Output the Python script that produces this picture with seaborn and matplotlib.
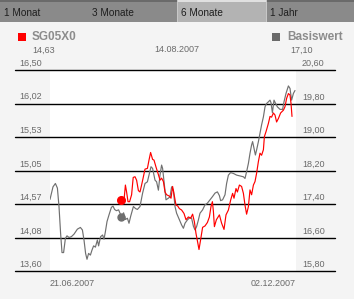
import matplotlib
matplotlib.use("Agg")
import matplotlib.pyplot as plt
import matplotlib.transforms as mtransforms
from matplotlib.patches import Rectangle
import seaborn as sns
import pandas as pd

sns.set_theme(style="white")
plt.rcParams['font.family'] = ['Liberation Sans Narrow', 'Liberation Sans', 'DejaVu Sans']

# ---------------- data ----------------
tabs = ["1 Monat", "3 Monate", "6 Monate", "1 Jahr"]
selected_tab = "6 Monate"

name_left = "SG05X0"
name_right = "Basiswert"
marker_date = "14.08.2007"
marker_left_value = "14,63"
marker_right_value = "17,10"
date_start = "21.06.2007"
date_end = "02.12.2007"

left_ticks = [13.60, 14.08, 14.57, 15.05, 15.53, 16.02, 16.50]
right_ticks = [15.80, 16.60, 17.40, 18.20, 19.00, 19.80, 20.60]

# trading-time index (0 = 21.06.2007, 123 = 02.12.2007)
basis_t = [0.0, 1.5, 2.7, 3.7, 4.5, 5.3, 6.0, 6.8, 7.7, 8.5, 9.5, 10.7, 12.0, 13.7,
           15.2, 16.2, 17.0, 17.8, 18.5, 19.3, 20.2, 21.0, 21.8, 22.7, 23.7, 24.3,
           25.3, 26.3, 27.0, 27.7, 28.5, 29.5, 30.7, 31.5, 32.3, 33.2, 34.3, 35.7,
           36.8, 37.7, 38.7, 39.5, 40.3, 41.7, 42.8, 43.7, 45.0, 46.3, 47.5, 48.7,
           49.7, 50.5, 51.3, 52.5, 53.3, 54.2, 55.0, 55.8, 56.3, 57.2, 58.0, 59.2,
           60.0, 60.8, 61.7, 62.5, 63.3, 64.7, 65.8, 66.7, 67.5, 68.7, 70.0, 70.8,
           71.7, 72.5, 73.3, 74.2, 75.0, 76.3, 77.5, 78.7, 80.0, 81.3, 82.5, 83.7,
           84.7, 85.3, 86.3, 87.5, 88.3, 89.2, 90.3, 91.7, 93.3, 95.0, 96.7, 97.5,
           98.3, 99.2, 100.0, 100.8, 101.3, 102.0, 102.7, 103.3, 104.2, 105.0,
           105.8, 106.7, 107.5, 108.3, 109.2, 110.0, 110.5, 111.2, 112.0, 112.8,
           113.7, 115.0, 116.3, 117.0, 118.0, 119.2, 120.0, 120.8, 121.7, 122.5]
basis_v = [17.51, 17.81, 17.89, 17.78, 17.34, 16.70, 16.24, 16.24, 16.58, 16.64,
           16.60, 16.62, 16.68, 16.80, 16.84, 16.78, 16.54, 16.22, 16.08, 16.22,
           16.18, 16.30, 16.40, 16.37, 16.54, 16.40, 16.62, 16.66, 16.56, 16.74,
           16.98, 17.14, 17.32, 17.35, 17.27, 17.24, 17.26, 17.10, 17.19, 17.03,
           17.06, 16.94, 17.10, 17.34, 17.29, 17.27, 17.34, 17.66, 17.89, 17.93,
           18.13, 18.29, 18.25, 17.97, 17.93, 17.73, 18.09, 18.33, 18.25, 17.85,
           17.50, 17.54, 17.57, 17.81, 17.73, 17.34, 17.18, 17.02, 16.90, 16.82,
           16.94, 17.02, 17.08, 17.06, 16.87, 16.78, 16.86, 17.02, 17.18, 17.26,
           17.38, 17.42, 17.50, 17.58, 17.66, 17.69, 17.60, 17.48, 17.50, 17.62,
           17.89, 18.09, 18.15, 18.13, 18.09, 18.07, 18.05, 18.01, 18.17, 18.37,
           18.61, 18.81, 18.89, 18.73, 18.57, 18.69, 18.89, 19.09, 19.29, 19.48,
           19.72, 19.80, 19.84, 19.88, 19.82, 19.58, 19.88, 19.80, 19.72, 19.66,
           19.66, 19.84, 20.04, 20.22, 20.16, 19.88, 20.04, 20.11]

sg_t = [35.7, 37.0, 37.7, 38.3, 39.0, 39.8, 40.8, 41.6, 42.5, 43.3, 44.2, 45.0,
        45.8, 46.7, 47.5, 48.7, 49.5, 50.3, 51.3, 52.0, 53.0, 54.2, 55.0, 55.8,
        56.7, 57.5, 58.3, 59.7, 60.5, 61.3, 62.2, 63.0, 63.8, 64.7, 65.8, 67.0,
        68.0, 69.2, 70.3, 71.3, 72.2, 73.0, 73.8, 74.5, 75.3, 76.3, 77.5, 78.7,
        79.7, 80.5, 81.2, 81.7, 82.2, 83.2, 84.7, 85.8, 87.0, 88.0, 89.2, 90.3,
        91.3, 92.0, 93.0, 93.7, 94.7, 95.8, 96.7, 97.5, 98.3, 99.2, 100.0, 100.8,
        101.7, 102.5, 103.3, 104.2, 105.0, 105.8, 106.7, 107.2, 108.0, 109.2,
        110.0, 110.8, 111.7, 112.5, 113.3, 114.2, 115.3, 116.7, 117.5, 118.3,
        119.2, 120.0, 120.5, 121.0]
sg_v = [14.63, 14.62, 14.84, 14.74, 14.60, 14.60, 14.70, 14.95, 14.96, 14.91,
        14.76, 14.74, 14.84, 14.96, 15.07, 15.08, 15.20, 15.31, 15.21, 15.20,
        15.10, 14.99, 14.91, 14.94, 14.89, 14.74, 14.70, 14.68, 14.65, 14.82,
        14.68, 14.55, 14.54, 14.50, 14.48, 14.43, 14.34, 14.38, 14.36, 14.42,
        14.31, 14.14, 14.02, 13.91, 14.05, 14.23, 14.25, 14.30, 14.38, 14.53,
        14.60, 14.46, 14.24, 14.34, 14.41, 14.29, 14.20, 14.41, 14.48, 14.62,
        14.72, 14.65, 14.79, 14.74, 14.84, 14.82, 14.72, 14.55, 14.42, 14.53,
        14.77, 14.70, 14.84, 14.89, 15.01, 15.18, 15.30, 15.27, 15.35, 15.54,
        15.61, 15.73, 15.83, 15.82, 15.88, 15.85, 15.75, 15.80, 15.88, 15.92,
        15.97, 16.09, 16.16, 16.14, 16.02, 15.83]

marker_t = 35.7
marker_sg = 14.63
marker_basis = 17.10

# ---------------- figure ----------------
W, H = 354, 299
BG = "#f4f4f4"
fig = plt.figure(figsize=(W / 100, H / 100), dpi=100, facecolor=BG)

def fx(px):
    return px / W

def fy(py):
    return 1 - py / H

# tab bar
tab_w = W / len(tabs)
for i, lab in enumerate(tabs):
    sel = lab == selected_tab
    fig.add_artist(Rectangle((fx(i * tab_w), fy(22)), fx(tab_w), 20 / H,
                             transform=fig.transFigure,
                             facecolor="#b3b3b3" if sel else "#8a8a8a",
                             edgecolor="none"))
    fig.add_artist(Rectangle((fx(i * tab_w), fy(2)), fx(tab_w), 2 / H,
                             transform=fig.transFigure,
                             facecolor="#e0e0e0" if sel else "#6a6a6a",
                             edgecolor="none"))
    if i > 0:
        fig.add_artist(Rectangle((fx(i * tab_w), fy(22)), fx(1), 22 / H,
                                 transform=fig.transFigure,
                                 facecolor="#c8c8c8", edgecolor="none"))
    fig.text(fx(i * tab_w + 4), fy(13), lab, ha="left", va="center",
             fontsize=7.2, color="#1e1e1e")

# header
fig.add_artist(Rectangle((fx(18), fy(41)), fx(8), 8 / H, transform=fig.transFigure,
                         facecolor="#ff0000", edgecolor="none"))
fig.text(fx(31.5), fy(37.5), name_left, ha="left", va="center", fontsize=8.5,
         fontweight="bold", color="#8c8c8c")
fig.text(fx(32), fy(50), marker_left_value, ha="left", va="center", fontsize=6.5,
         color="#6a6a6a")
fig.text(fx(177), fy(50), marker_date, ha="center", va="center", fontsize=6.5,
         color="#6a6a6a")
fig.add_artist(Rectangle((fx(272), fy(41)), fx(8), 8 / H, transform=fig.transFigure,
                         facecolor="#6a6a6a", edgecolor="none"))
fig.text(fx(343), fy(37.5), name_right, ha="right", va="center", fontsize=8.5,
         fontweight="bold", color="#8c8c8c")
fig.text(fx(290), fy(50), marker_right_value, ha="left", va="center", fontsize=6.5,
         color="#6a6a6a")

# plot area
left, right, top, bottom = 50, 296, 70, 271
ax = fig.add_axes([fx(left), fy(bottom), fx(right - left), (bottom - top) / H])
ax.set_facecolor("white")
ax2 = ax.twinx()

basis_df = pd.DataFrame({"t": basis_t, "v": basis_v})
sg_df = pd.DataFrame({"t": sg_t, "v": sg_v})

sns.lineplot(data=basis_df, x="t", y="v", ax=ax, color="#707070", linewidth=0.85,
             zorder=3)
sns.lineplot(data=sg_df, x="t", y="v", ax=ax2, color="#ff0000", linewidth=0.85,
             zorder=4)
ax.plot([marker_t], [marker_basis], "o", color="#6e6e6e", markersize=5, zorder=5)
ax2.plot([marker_t], [marker_sg], "o", color="#ff0000", markersize=5.5, zorder=5)

ax.set_xlim(0, 123)
ax.set_ylim(right_ticks[0], right_ticks[-1])
ax2.set_ylim(left_ticks[0], left_ticks[-1])

for a in (ax, ax2):
    a.set_xlabel("")
    a.set_ylabel("")
    a.set_xticks([])
    a.set_yticks([])
    for s in a.spines.values():
        s.set_visible(False)

# horizontal rules + labels
x0 = (15 - left) / (right - left)
x1 = (335 - left) / (right - left)
for rv in right_ticks:
    ax.axhline(rv, xmin=x0, xmax=x1, color="black", linewidth=1.0,
               clip_on=False, zorder=2)
trans_l = mtransforms.blended_transform_factory(ax2.transAxes, ax2.transData)
for lv in left_ticks:
    ax2.annotate(f"{lv:.2f}".replace(".", ","), xy=((42 - left) / (right - left), lv),
                 xycoords=trans_l, xytext=(0, 1.5), textcoords="offset points",
                 ha="right", va="bottom", fontsize=6.5, color="#6a6a6a",
                 annotation_clip=False)
trans_r = mtransforms.blended_transform_factory(ax.transAxes, ax.transData)
for rv in right_ticks:
    ax.annotate(f"{rv:.2f}".replace(".", ","), xy=((302 - left) / (right - left), rv),
                xycoords=trans_r, xytext=(0, 1.5), textcoords="offset points",
                ha="left", va="bottom", fontsize=6.5, color="#6a6a6a",
                annotation_clip=False)

fig.text(fx(50), fy(283), date_start, ha="left", va="center", fontsize=6.5,
         color="#6a6a6a")
fig.text(fx(296), fy(283), date_end, ha="right", va="center", fontsize=6.5,
         color="#6a6a6a")

fig.savefig("out.png", dpi=100, facecolor=BG)
